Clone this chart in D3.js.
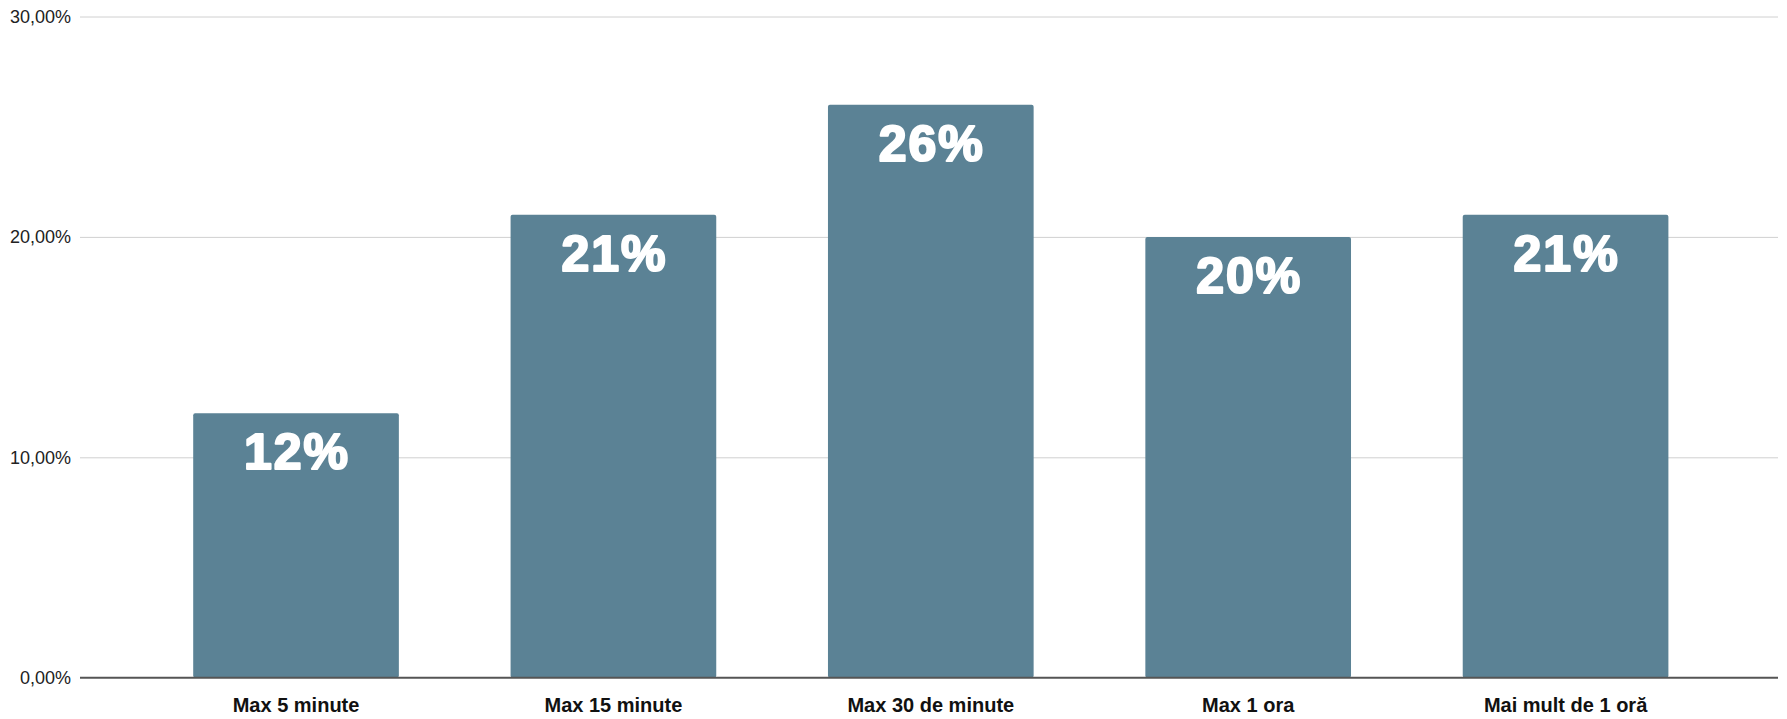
<!DOCTYPE html>
<html>
<head>
<meta charset="utf-8">
<script src="https://cdn.jsdelivr.net/npm/d3@7"></script>
<style>
  html, body { margin: 0; padding: 0; background: #fff; }
  svg { display: block; }
</style>
</head>
<body>
<svg id="chart" width="1787" height="719"></svg>
<script>
const categories = ["Max 5 minute", "Max 15 minute", "Max 30 de minute", "Max 1 ora", "Mai mult de 1 oră"];
const values = [0.12, 0.21, 0.26, 0.20, 0.21];
const barLabels = ["12%", "21%", "26%", "20%", "21%"];
const yTicks = [0, 0.10, 0.20, 0.30];

const W = 1787, H = 719;
const margin = { left: 80, right: 9, top: 16.5, bottom: 41.3 };
const svg = d3.select("#chart");

const x = d3.scaleBand()
  .domain(categories)
  .range([margin.left + 1.8, W - margin.right + 1.8])
  .paddingInner(0.352)
  .paddingOuter(0.351);

const y = d3.scaleLinear()
  .domain([0, 0.30])
  .range([H - margin.bottom, margin.top]);

const locale = d3.formatLocale({ decimal: ",", thousands: ".", grouping: [3], currency: ["", " €"] });
const fmt = locale.format(".2%");

// gridlines
const yAxis = d3.axisLeft(y).tickValues(yTicks).tickFormat(fmt)
  .tickSize(-(W - margin.right - margin.left)).tickPadding(9);
const gy = svg.append("g").attr("transform", `translate(${margin.left},0)`).call(yAxis);
gy.select(".domain").remove();
gy.selectAll(".tick line").attr("stroke", "#d0d0d0").attr("stroke-width", 1);
gy.selectAll(".tick text")
  .attr("font-family", "'Liberation Sans', Arial, sans-serif")
  .attr("font-size", 18).attr("fill", "#222");
gy.selectAll(".tick").filter(d => d === 0).select("line").remove();

// bars
svg.append("g").selectAll("rect")
  .data(values)
  .join("rect")
  .attr("x", (d, i) => x(categories[i]))
  .attr("width", x.bandwidth())
  .attr("y", d => y(d))
  .attr("height", d => y(0) - y(d))
  .attr("rx", 2).attr("ry", 2)
  .attr("fill", "#5b8295");

// bar labels
svg.append("g").selectAll("text")
  .data(values)
  .join("text")
  .attr("x", (d, i) => x(categories[i]) + x.bandwidth() / 2 + 1)
  .attr("y", d => y(d) + 56)
  .attr("text-anchor", "middle")
  .attr("font-family", "'Liberation Sans', Arial, sans-serif")
  .attr("font-weight", "bold")
  .attr("font-size", 50)
  .attr("letter-spacing", 2)
  .attr("fill", "#fff")
  .attr("stroke", "#fff")
  .attr("stroke-width", 2.2)
  .attr("stroke-linejoin", "round")
  .text((d, i) => barLabels[i]);

// x axis
const xAxis = d3.axisBottom(x).tickSize(0).tickPadding(20);
const gx = svg.append("g").attr("transform", `translate(0,${y(0)})`).call(xAxis);
gx.select(".domain").remove();
gx.selectAll(".tick text")
  .attr("font-family", "'Liberation Sans', Arial, sans-serif")
  .attr("font-weight", "bold")
  .attr("font-size", 20)
  .attr("fill", "#111");

svg.append("line")
  .attr("x1", margin.left).attr("x2", W - margin.right)
  .attr("y1", y(0)).attr("y2", y(0))
  .attr("stroke", "#555").attr("stroke-width", 2);
</script>
</body>
</html>
